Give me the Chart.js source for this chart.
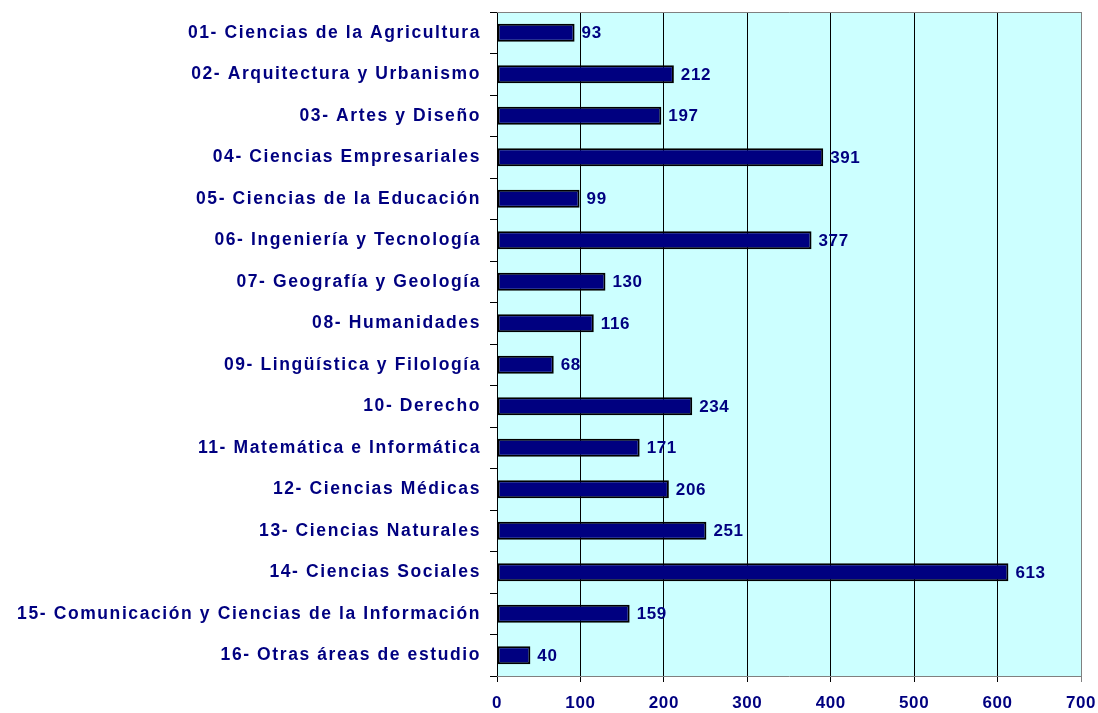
<!DOCTYPE html>
<html>
<head>
<meta charset="utf-8">
<script src="https://cdn.jsdelivr.net/npm/chart.js@4.4.0/dist/chart.umd.min.js"></script>
<style>
html,body{margin:0;padding:0;background:#ffffff;}
#wrap{width:1098px;height:713px;position:relative;}
</style>
</head>
<body>
<div id="wrap"><canvas id="c" width="1098" height="713"></canvas></div>
<script>
const categories = [
  "01- Ciencias de la Agricultura",
  "02- Arquitectura y Urbanismo",
  "03- Artes y Diseño",
  "04- Ciencias Empresariales",
  "05- Ciencias de la Educación",
  "06- Ingeniería y Tecnología",
  "07- Geografía y Geología",
  "08- Humanidades",
  "09- Lingüística y Filología",
  "10- Derecho",
  "11- Matemática e Informática",
  "12- Ciencias Médicas",
  "13- Ciencias Naturales",
  "14- Ciencias Sociales",
  "15- Comunicación y Ciencias de la Información",
  "16- Otras áreas de estudio"
];
const values = [93, 212, 197, 391, 99, 377, 130, 116, 68, 234, 171, 206, 251, 613, 159, 40];
const xTicks = [0, 100, 200, 300, 400, 500, 600, 700];

const NAVY = '#000080';
const FONT = '"Liberation Sans", Arial, sans-serif';

const plotBg = {
  id: 'plotBg',
  beforeDraw(chart) {
    const {ctx, chartArea: a} = chart;
    ctx.save();
    ctx.fillStyle = '#CCFFFF';
    ctx.fillRect(a.left, a.top, a.right - a.left, a.bottom - a.top);
    ctx.restore();
    ctx.letterSpacing = '1.6px';
  },
  afterDatasetsDraw(chart) {
    const {ctx, chartArea: a} = chart;
    ctx.letterSpacing = '0.6px';
    ctx.save();
    ctx.strokeStyle = '#808080';
    ctx.lineWidth = 1;
    ctx.beginPath();
    ctx.moveTo(a.left, a.top + 0.5);
    ctx.lineTo(a.right + 0.5, a.top + 0.5);
    ctx.lineTo(a.right + 0.5, a.bottom);
    ctx.stroke();
    const meta = chart.getDatasetMeta(0);
    ctx.fillStyle = NAVY;
    ctx.font = 'bold 17px ' + FONT;
    ctx.textAlign = 'left';
    ctx.textBaseline = 'middle';
    meta.data.forEach((bar, i) => {
      ctx.fillText(String(values[i]), bar.x + 7, bar.y + 1);
    });
    ctx.restore();
  },
  afterDraw(chart) {
    chart.ctx.letterSpacing = '0px';
  }
};

new Chart(document.getElementById('c'), {
  type: 'bar',
  data: {
    labels: categories,
    datasets: [{
      data: values,
      backgroundColor: NAVY,
      borderColor: '#000000',
      borderWidth: 2,
      borderSkipped: false,
      categoryPercentage: 1,
      barPercentage: 0.43
    }]
  },
  options: {
    indexAxis: 'y',
    responsive: false,
    animation: false,
    devicePixelRatio: 1,
    layout: { padding: { left: 0, right: 0, top: 12, bottom: 0 } },
    plugins: { legend: { display: false }, tooltip: { enabled: false } },
    scales: {
      y: {
        afterFit(s) { s.width = 497; s.paddingTop = 0; s.paddingBottom = 0; },
        grid: { drawOnChartArea: false, drawTicks: true, tickLength: 7, color: '#000000', offset: true },
        border: { color: '#000000', width: 1 },
        ticks: { color: NAVY, padding: 9, font: { family: FONT, size: 17.5, weight: 'bold' }, autoSkip: false }
      },
      x: {
        min: 0, max: 700,
        afterFit(s) { s.height = 37; s.paddingLeft = 0; s.paddingRight = 17; },
        afterBuildTicks(s) { s.ticks = xTicks.map(v => ({ value: v })); },
        grid: {
          color: (c) => (c.tick && c.tick.value === 700) ? '#808080' : '#000000',
          lineWidth: 1, tickLength: 6, drawTicks: true
        },
        border: { color: '#808080', width: 1 },
        ticks: { z: 1, color: NAVY, padding: 11, font: { family: FONT, size: 17, weight: 'bold' } }
      }
    }
  },
  plugins: [plotBg]
});
</script>
</body>
</html>
